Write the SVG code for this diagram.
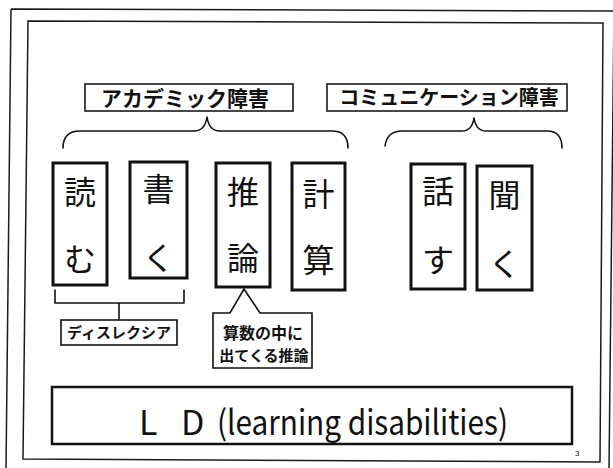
<svg xmlns="http://www.w3.org/2000/svg" width="613" height="468" viewBox="0 0 613 468">
<style>
.frame{fill:none;stroke:#1a1a1a;stroke-width:1.5}
.title{fill:#fff;stroke:#1a1a1a;stroke-width:1.6}
.tt{font-family:"Noto Sans CJK JP",sans-serif;font-weight:700;fill:#111;text-anchor:middle}
.lb{fill:#fff;stroke:#111;stroke-width:3}
.ch{font-family:"Noto Sans CJK JP",sans-serif;font-weight:400;font-size:32px;fill:#111;text-anchor:middle}
.ln{fill:none;stroke:#111;stroke-width:1.6;stroke-linejoin:round;stroke-linecap:round}
.cb{fill:#fff;stroke:#111;stroke-width:1.6}
</style>
<rect width="613" height="468" fill="#fff"/>
<g id="frames">
<path class="frame" d="M11,9 L6,470 M11,9 L614,11 M614,11 L609,470"/>
<path class="frame" d="M28,21 L603,23 L600,462 L23,459 Z"/>
</g>
<g id="academic">
<rect class="title" x="85" y="84" width="208" height="27"/>
<text class="tt" x="185" y="105.5" font-size="21">アカデミック障害</text>
</g>
<g id="communication">
<rect class="title" x="327" y="84" width="240" height="27"/>
<text class="tt" x="449" y="105" font-size="20">コミュニケーション障害</text>
</g>
<g id="yomu">
<rect class="lb" x="53" y="163" width="54" height="122"/>
<text class="ch" x="80" y="204">読</text>
<text class="ch" x="80" y="271">む</text>
</g>
<g id="kaku">
<rect class="lb" x="130" y="162" width="57" height="116"/>
<text class="ch" x="158.5" y="201">書</text>
<text class="ch" x="158.5" y="270">く</text>
</g>
<g id="suiron">
<rect class="lb" x="216" y="163" width="54" height="124"/>
<text class="ch" x="243" y="204">推</text>
<text class="ch" x="243" y="270">論</text>
</g>
<g id="keisan">
<rect class="lb" x="292" y="163" width="53" height="127"/>
<text class="ch" x="318.5" y="206">計</text>
<text class="ch" x="318.5" y="272">算</text>
</g>
<g id="hanasu">
<rect class="lb" x="411" y="164" width="54" height="125"/>
<text class="ch" x="438" y="203">話</text>
<text class="ch" x="438" y="272">す</text>
</g>
<g id="kiku">
<rect class="lb" x="477" y="166" width="55" height="124"/>
<text class="ch" x="504.5" y="207">聞</text>
<text class="ch" x="504.5" y="276">く</text>
</g>
<g id="connectors">
<path class="ln" d="M63,148 Q63,131 80,131 L194,131 Q205,131 207,117 Q209,131 220,131 L332,131 Q348,131 348,148"/>
<path class="ln" d="M385,146 Q387,131 402,131 L462,131 Q472,131 474,118 Q476,131 486,131 L547,131 Q562,131 562,148"/>
<path class="ln" d="M55,290 V303 H184 V290 M119,303 V320"/>
</g>
<g id="dyslexia">
<rect class="cb" x="61" y="320" width="116" height="25"/>
<text class="tt" x="119" y="338" font-size="15">ディスレクシア</text>
</g>
<g id="reasoning-note">
<path class="cb" d="M213,313 H230 L244,289 L260,313 H312 V368 H213 Z"/>
<text class="tt" x="263" y="339" font-size="16">算数の中に</text>
<text class="tt" x="264" y="361" font-size="15">出てくる推論</text>
</g>
<g id="ld">
<rect fill="#fff" stroke="#111" stroke-width="2.5" x="52" y="387" width="520" height="57"/>
<text font-family="Noto Sans CJK JP,sans-serif" font-size="34" fill="#111" y="435"><tspan x="139">L </tspan><tspan x="181">D </tspan><tspan x="217" textLength="291" lengthAdjust="spacingAndGlyphs">(learning disabilities)</tspan></text>
</g>
<text font-family="Liberation Sans,sans-serif" font-size="8" fill="#111" x="575" y="456">3</text>
</svg>
